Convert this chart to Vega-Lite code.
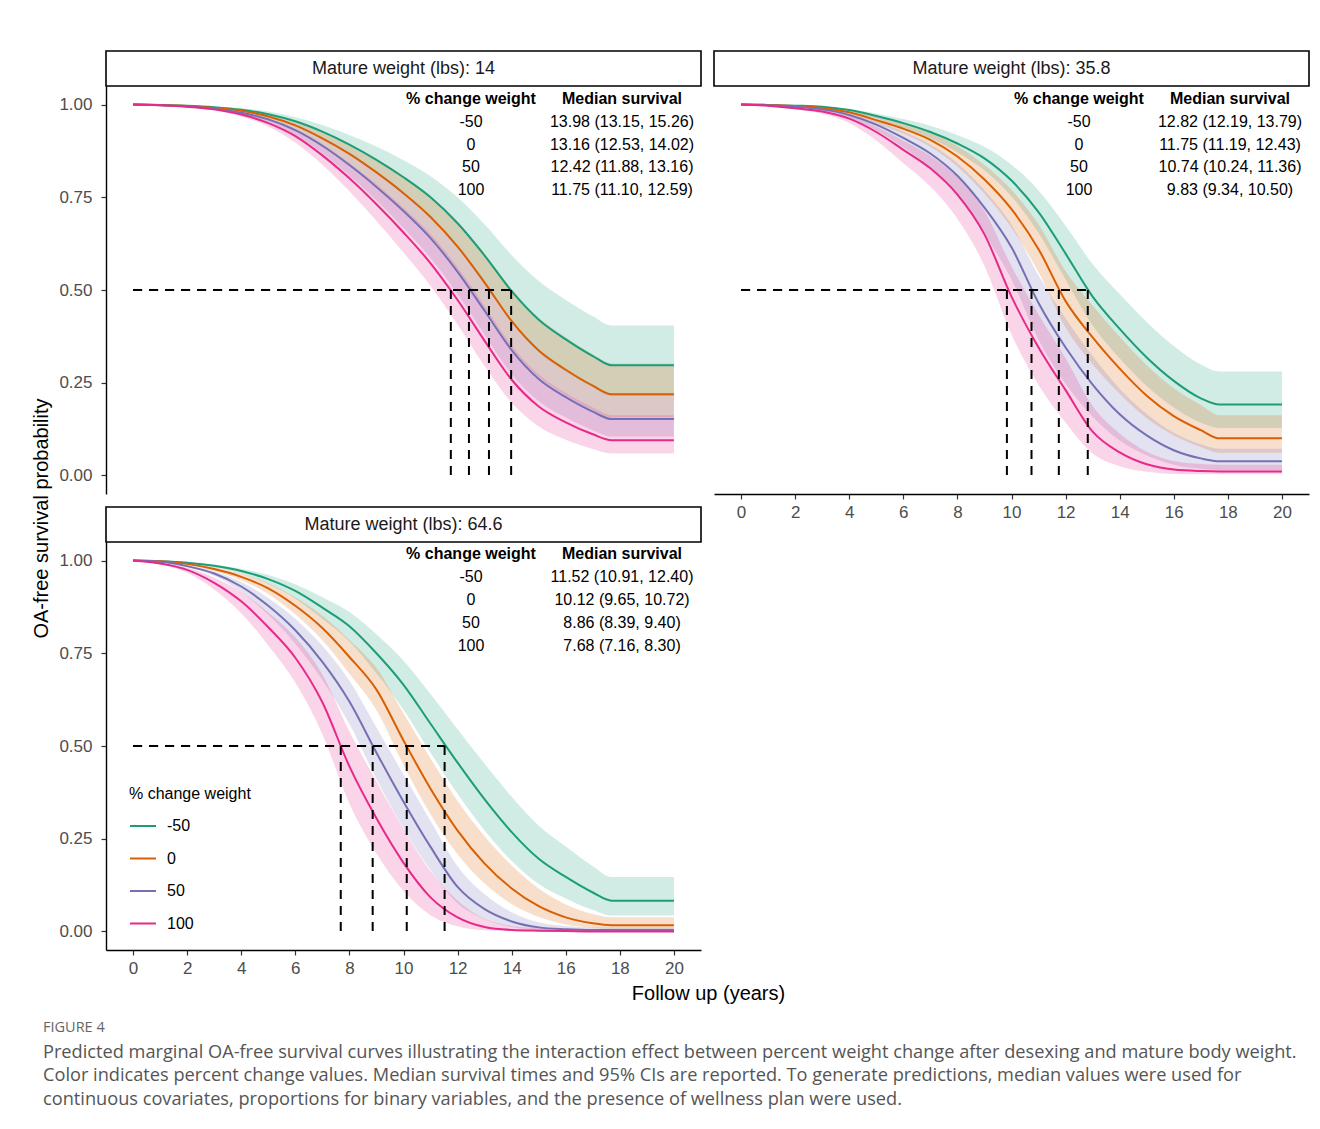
{
  "$schema": "https://vega.github.io/schema/vega-lite/v6.json",
  "padding": {"left": 30, "top": 50, "right": 5, "bottom": 5},
  "background": "white",
  "datasets": {
    "header": [
      {"col": "pct", "row": "h", "label": "% change weight"},
      {"col": "med", "row": "h", "label": "Median survival"}
    ],
    "strips": [
      {"p": "14", "label": "Mature weight (lbs): 14"},
      {"p": "35.8", "label": "Mature weight (lbs): 35.8"},
      {"p": "64.6", "label": "Mature weight (lbs): 64.6"}
    ],
    "medians": [
      {"p": "14", "g": "-50", "med": 13.98, "label": "13.98 (13.15, 15.26)"},
      {"p": "14", "g": "0", "med": 13.16, "label": "13.16 (12.53, 14.02)"},
      {"p": "14", "g": "50", "med": 12.42, "label": "12.42 (11.88, 13.16)"},
      {"p": "14", "g": "100", "med": 11.75, "label": "11.75 (11.10, 12.59)"},
      {"p": "35.8", "g": "-50", "med": 12.82, "label": "12.82 (12.19, 13.79)"},
      {"p": "35.8", "g": "0", "med": 11.75, "label": "11.75 (11.19, 12.43)"},
      {"p": "35.8", "g": "50", "med": 10.74, "label": "10.74 (10.24, 11.36)"},
      {"p": "35.8", "g": "100", "med": 9.83, "label": "9.83 (9.34, 10.50)"},
      {"p": "64.6", "g": "-50", "med": 11.52, "label": "11.52 (10.91, 12.40)"},
      {"p": "64.6", "g": "0", "med": 10.12, "label": "10.12 (9.65, 10.72)"},
      {"p": "64.6", "g": "50", "med": 8.86, "label": "8.86 (8.39, 9.40)"},
      {"p": "64.6", "g": "100", "med": 7.68, "label": "7.68 (7.16, 8.30)"}
    ],
    "curves": [
      {"p":"14","g":"-50","t":0,"s":1,"lo":1,"hi":1},
      {"p":"14","g":"-50","t":1,"s":0.999,"lo":0.999,"hi":0.999},
      {"p":"14","g":"-50","t":2,"s":0.997,"lo":0.996,"hi":0.998},
      {"p":"14","g":"-50","t":3,"s":0.993,"lo":0.991,"hi":0.995},
      {"p":"14","g":"-50","t":4,"s":0.986,"lo":0.982,"hi":0.990},
      {"p":"14","g":"-50","t":5,"s":0.974,"lo":0.967,"hi":0.981},
      {"p":"14","g":"-50","t":6,"s":0.955,"lo":0.943,"hi":0.966},
      {"p":"14","g":"-50","t":7,"s":0.927,"lo":0.908,"hi":0.945},
      {"p":"14","g":"-50","t":8,"s":0.892,"lo":0.865,"hi":0.918},
      {"p":"14","g":"-50","t":9,"s":0.851,"lo":0.815,"hi":0.887},
      {"p":"14","g":"-50","t":10,"s":0.804,"lo":0.758,"hi":0.850},
      {"p":"14","g":"-50","t":11,"s":0.750,"lo":0.694,"hi":0.807},
      {"p":"14","g":"-50","t":12,"s":0.680,"lo":0.613,"hi":0.750},
      {"p":"14","g":"-50","t":13,"s":0.593,"lo":0.515,"hi":0.677},
      {"p":"14","g":"-50","t":14,"s":0.497,"lo":0.412,"hi":0.594},
      {"p":"14","g":"-50","t":15,"s":0.420,"lo":0.332,"hi":0.524},
      {"p":"14","g":"-50","t":16,"s":0.367,"lo":0.280,"hi":0.473},
      {"p":"14","g":"-50","t":17,"s":0.322,"lo":0.237,"hi":0.429},
      {"p":"14","g":"-50","t":17.7,"s":0.297,"lo":0.214,"hi":0.404},
      {"p":"14","g":"-50","t":20,"s":0.297,"lo":0.214,"hi":0.404},
      {"p":"14","g":"0","t":0,"s":1,"lo":1,"hi":1},
      {"p":"14","g":"0","t":1,"s":0.999,"lo":0.998,"hi":0.999},
      {"p":"14","g":"0","t":2,"s":0.996,"lo":0.995,"hi":0.997},
      {"p":"14","g":"0","t":3,"s":0.991,"lo":0.989,"hi":0.993},
      {"p":"14","g":"0","t":4,"s":0.983,"lo":0.979,"hi":0.986},
      {"p":"14","g":"0","t":5,"s":0.968,"lo":0.961,"hi":0.974},
      {"p":"14","g":"0","t":6,"s":0.944,"lo":0.932,"hi":0.956},
      {"p":"14","g":"0","t":7,"s":0.909,"lo":0.891,"hi":0.928},
      {"p":"14","g":"0","t":8,"s":0.867,"lo":0.840,"hi":0.893},
      {"p":"14","g":"0","t":9,"s":0.817,"lo":0.782,"hi":0.853},
      {"p":"14","g":"0","t":10,"s":0.761,"lo":0.717,"hi":0.806},
      {"p":"14","g":"0","t":11,"s":0.697,"lo":0.645,"hi":0.753},
      {"p":"14","g":"0","t":12,"s":0.617,"lo":0.555,"hi":0.683},
      {"p":"14","g":"0","t":13,"s":0.520,"lo":0.451,"hi":0.597},
      {"p":"14","g":"0","t":14,"s":0.416,"lo":0.344,"hi":0.502},
      {"p":"14","g":"0","t":15,"s":0.337,"lo":0.266,"hi":0.425},
      {"p":"14","g":"0","t":16,"s":0.285,"lo":0.217,"hi":0.372},
      {"p":"14","g":"0","t":17,"s":0.242,"lo":0.177,"hi":0.327},
      {"p":"14","g":"0","t":17.7,"s":0.219,"lo":0.157,"hi":0.302},
      {"p":"14","g":"0","t":20,"s":0.219,"lo":0.157,"hi":0.302},
      {"p":"14","g":"50","t":0,"s":1,"lo":1,"hi":1},
      {"p":"14","g":"50","t":1,"s":0.998,"lo":0.998,"hi":0.999},
      {"p":"14","g":"50","t":2,"s":0.995,"lo":0.994,"hi":0.996},
      {"p":"14","g":"50","t":3,"s":0.989,"lo":0.987,"hi":0.991},
      {"p":"14","g":"50","t":4,"s":0.978,"lo":0.974,"hi":0.982},
      {"p":"14","g":"50","t":5,"s":0.960,"lo":0.952,"hi":0.967},
      {"p":"14","g":"50","t":6,"s":0.931,"lo":0.918,"hi":0.944},
      {"p":"14","g":"50","t":7,"s":0.889,"lo":0.869,"hi":0.909},
      {"p":"14","g":"50","t":8,"s":0.837,"lo":0.809,"hi":0.866},
      {"p":"14","g":"50","t":9,"s":0.778,"lo":0.741,"hi":0.816},
      {"p":"14","g":"50","t":10,"s":0.713,"lo":0.667,"hi":0.759},
      {"p":"14","g":"50","t":11,"s":0.640,"lo":0.586,"hi":0.695},
      {"p":"14","g":"50","t":12,"s":0.549,"lo":0.489,"hi":0.614},
      {"p":"14","g":"50","t":13,"s":0.444,"lo":0.379,"hi":0.517},
      {"p":"14","g":"50","t":14,"s":0.338,"lo":0.273,"hi":0.413},
      {"p":"14","g":"50","t":15,"s":0.260,"lo":0.200,"hi":0.334},
      {"p":"14","g":"50","t":16,"s":0.211,"lo":0.156,"hi":0.282},
      {"p":"14","g":"50","t":17,"s":0.172,"lo":0.122,"hi":0.239},
      {"p":"14","g":"50","t":17.7,"s":0.152,"lo":0.105,"hi":0.216},
      {"p":"14","g":"50","t":20,"s":0.152,"lo":0.105,"hi":0.216},
      {"p":"14","g":"100","t":0,"s":1,"lo":1,"hi":1},
      {"p":"14","g":"100","t":1,"s":0.998,"lo":0.998,"hi":0.999},
      {"p":"14","g":"100","t":2,"s":0.994,"lo":0.993,"hi":0.996},
      {"p":"14","g":"100","t":3,"s":0.987,"lo":0.984,"hi":0.990},
      {"p":"14","g":"100","t":4,"s":0.973,"lo":0.968,"hi":0.979},
      {"p":"14","g":"100","t":5,"s":0.950,"lo":0.941,"hi":0.961},
      {"p":"14","g":"100","t":6,"s":0.915,"lo":0.898,"hi":0.933},
      {"p":"14","g":"100","t":7,"s":0.863,"lo":0.838,"hi":0.893},
      {"p":"14","g":"100","t":8,"s":0.801,"lo":0.766,"hi":0.842},
      {"p":"14","g":"100","t":9,"s":0.731,"lo":0.686,"hi":0.785},
      {"p":"14","g":"100","t":10,"s":0.655,"lo":0.601,"hi":0.721},
      {"p":"14","g":"100","t":11,"s":0.572,"lo":0.511,"hi":0.650},
      {"p":"14","g":"100","t":12,"s":0.473,"lo":0.407,"hi":0.561},
      {"p":"14","g":"100","t":13,"s":0.363,"lo":0.295,"hi":0.457},
      {"p":"14","g":"100","t":14,"s":0.258,"lo":0.196,"hi":0.350},
      {"p":"14","g":"100","t":15,"s":0.186,"lo":0.132,"hi":0.272},
      {"p":"14","g":"100","t":16,"s":0.143,"lo":0.096,"hi":0.222},
      {"p":"14","g":"100","t":17,"s":0.111,"lo":0.071,"hi":0.183},
      {"p":"14","g":"100","t":17.7,"s":0.095,"lo":0.059,"hi":0.162},
      {"p":"14","g":"100","t":20,"s":0.095,"lo":0.059,"hi":0.162},
      {"p":"35.8","g":"-50","t":0,"s":1,"lo":1,"hi":1},
      {"p":"35.8","g":"-50","t":1,"s":0.999,"lo":0.999,"hi":0.999},
      {"p":"35.8","g":"-50","t":2,"s":0.997,"lo":0.996,"hi":0.998},
      {"p":"35.8","g":"-50","t":3,"s":0.994,"lo":0.993,"hi":0.995},
      {"p":"35.8","g":"-50","t":4,"s":0.985,"lo":0.981,"hi":0.988},
      {"p":"35.8","g":"-50","t":5,"s":0.969,"lo":0.962,"hi":0.976},
      {"p":"35.8","g":"-50","t":6,"s":0.950,"lo":0.938,"hi":0.961},
      {"p":"35.8","g":"-50","t":7,"s":0.926,"lo":0.909,"hi":0.943},
      {"p":"35.8","g":"-50","t":8,"s":0.895,"lo":0.871,"hi":0.918},
      {"p":"35.8","g":"-50","t":9,"s":0.855,"lo":0.823,"hi":0.886},
      {"p":"35.8","g":"-50","t":10,"s":0.795,"lo":0.752,"hi":0.838},
      {"p":"35.8","g":"-50","t":11,"s":0.710,"lo":0.654,"hi":0.768},
      {"p":"35.8","g":"-50","t":12,"s":0.598,"lo":0.528,"hi":0.673},
      {"p":"35.8","g":"-50","t":13,"s":0.482,"lo":0.404,"hi":0.570},
      {"p":"35.8","g":"-50","t":14,"s":0.395,"lo":0.316,"hi":0.489},
      {"p":"35.8","g":"-50","t":15,"s":0.318,"lo":0.241,"hi":0.414},
      {"p":"35.8","g":"-50","t":16,"s":0.255,"lo":0.183,"hi":0.349},
      {"p":"35.8","g":"-50","t":17,"s":0.208,"lo":0.142,"hi":0.299},
      {"p":"35.8","g":"-50","t":17.7,"s":0.191,"lo":0.128,"hi":0.280},
      {"p":"35.8","g":"-50","t":20,"s":0.191,"lo":0.128,"hi":0.280},
      {"p":"35.8","g":"0","t":0,"s":1,"lo":1,"hi":1},
      {"p":"35.8","g":"0","t":1,"s":0.999,"lo":0.999,"hi":0.999},
      {"p":"35.8","g":"0","t":2,"s":0.996,"lo":0.995,"hi":0.997},
      {"p":"35.8","g":"0","t":3,"s":0.991,"lo":0.989,"hi":0.993},
      {"p":"35.8","g":"0","t":4,"s":0.979,"lo":0.975,"hi":0.983},
      {"p":"35.8","g":"0","t":5,"s":0.958,"lo":0.949,"hi":0.967},
      {"p":"35.8","g":"0","t":6,"s":0.935,"lo":0.922,"hi":0.948},
      {"p":"35.8","g":"0","t":7,"s":0.905,"lo":0.886,"hi":0.924},
      {"p":"35.8","g":"0","t":8,"s":0.860,"lo":0.833,"hi":0.888},
      {"p":"35.8","g":"0","t":9,"s":0.798,"lo":0.760,"hi":0.837},
      {"p":"35.8","g":"0","t":10,"s":0.718,"lo":0.668,"hi":0.770},
      {"p":"35.8","g":"0","t":11,"s":0.610,"lo":0.548,"hi":0.677},
      {"p":"35.8","g":"0","t":12,"s":0.470,"lo":0.399,"hi":0.551},
      {"p":"35.8","g":"0","t":13,"s":0.372,"lo":0.300,"hi":0.458},
      {"p":"35.8","g":"0","t":14,"s":0.288,"lo":0.220,"hi":0.374},
      {"p":"35.8","g":"0","t":15,"s":0.215,"lo":0.154,"hi":0.297},
      {"p":"35.8","g":"0","t":16,"s":0.160,"lo":0.108,"hi":0.235},
      {"p":"35.8","g":"0","t":17,"s":0.122,"lo":0.077,"hi":0.190},
      {"p":"35.8","g":"0","t":17.7,"s":0.100,"lo":0.061,"hi":0.162},
      {"p":"35.8","g":"0","t":20,"s":0.100,"lo":0.061,"hi":0.162},
      {"p":"35.8","g":"50","t":0,"s":1,"lo":1,"hi":1},
      {"p":"35.8","g":"50","t":1,"s":0.998,"lo":0.997,"hi":0.998},
      {"p":"35.8","g":"50","t":2,"s":0.994,"lo":0.992,"hi":0.995},
      {"p":"35.8","g":"50","t":3,"s":0.987,"lo":0.983,"hi":0.990},
      {"p":"35.8","g":"50","t":4,"s":0.972,"lo":0.963,"hi":0.977},
      {"p":"35.8","g":"50","t":5,"s":0.946,"lo":0.930,"hi":0.956},
      {"p":"35.8","g":"50","t":6,"s":0.910,"lo":0.884,"hi":0.927},
      {"p":"35.8","g":"50","t":7,"s":0.868,"lo":0.830,"hi":0.892},
      {"p":"35.8","g":"50","t":8,"s":0.808,"lo":0.756,"hi":0.842},
      {"p":"35.8","g":"50","t":9,"s":0.722,"lo":0.652,"hi":0.769},
      {"p":"35.8","g":"50","t":10,"s":0.615,"lo":0.528,"hi":0.676},
      {"p":"35.8","g":"50","t":11,"s":0.465,"lo":0.366,"hi":0.539},
      {"p":"35.8","g":"50","t":12,"s":0.345,"lo":0.247,"hi":0.424},
      {"p":"35.8","g":"50","t":13,"s":0.245,"lo":0.158,"hi":0.322},
      {"p":"35.8","g":"50","t":14,"s":0.165,"lo":0.094,"hi":0.234},
      {"p":"35.8","g":"50","t":15,"s":0.108,"lo":0.054,"hi":0.166},
      {"p":"35.8","g":"50","t":16,"s":0.068,"lo":0.029,"hi":0.115},
      {"p":"35.8","g":"50","t":17,"s":0.046,"lo":0.018,"hi":0.084},
      {"p":"35.8","g":"50","t":17.7,"s":0.038,"lo":0.014,"hi":0.072},
      {"p":"35.8","g":"50","t":20,"s":0.038,"lo":0.014,"hi":0.072},
      {"p":"35.8","g":"100","t":0,"s":1,"lo":1,"hi":1},
      {"p":"35.8","g":"100","t":1,"s":0.997,"lo":0.996,"hi":0.998},
      {"p":"35.8","g":"100","t":2,"s":0.990,"lo":0.987,"hi":0.992},
      {"p":"35.8","g":"100","t":3,"s":0.981,"lo":0.975,"hi":0.985},
      {"p":"35.8","g":"100","t":4,"s":0.962,"lo":0.950,"hi":0.970},
      {"p":"35.8","g":"100","t":5,"s":0.926,"lo":0.903,"hi":0.941},
      {"p":"35.8","g":"100","t":6,"s":0.878,"lo":0.842,"hi":0.903},
      {"p":"35.8","g":"100","t":7,"s":0.828,"lo":0.779,"hi":0.862},
      {"p":"35.8","g":"100","t":8,"s":0.757,"lo":0.692,"hi":0.804},
      {"p":"35.8","g":"100","t":9,"s":0.650,"lo":0.565,"hi":0.713},
      {"p":"35.8","g":"100","t":10,"s":0.482,"lo":0.380,"hi":0.564},
      {"p":"35.8","g":"100","t":11,"s":0.345,"lo":0.244,"hi":0.434},
      {"p":"35.8","g":"100","t":12,"s":0.230,"lo":0.143,"hi":0.316},
      {"p":"35.8","g":"100","t":13,"s":0.118,"lo":0.059,"hi":0.187},
      {"p":"35.8","g":"100","t":14,"s":0.062,"lo":0.025,"hi":0.113},
      {"p":"35.8","g":"100","t":15,"s":0.030,"lo":0.010,"hi":0.064},
      {"p":"35.8","g":"100","t":16,"s":0.016,"lo":0.004,"hi":0.039},
      {"p":"35.8","g":"100","t":17,"s":0.012,"lo":0.003,"hi":0.031},
      {"p":"35.8","g":"100","t":17.7,"s":0.011,"lo":0.003,"hi":0.029},
      {"p":"35.8","g":"100","t":20,"s":0.011,"lo":0.003,"hi":0.029},
      {"p":"64.6","g":"-50","t":0,"s":1,"lo":1,"hi":1},
      {"p":"64.6","g":"-50","t":1,"s":0.998,"lo":0.998,"hi":0.999},
      {"p":"64.6","g":"-50","t":2,"s":0.994,"lo":0.993,"hi":0.995},
      {"p":"64.6","g":"-50","t":3,"s":0.986,"lo":0.982,"hi":0.989},
      {"p":"64.6","g":"-50","t":4,"s":0.972,"lo":0.965,"hi":0.978},
      {"p":"64.6","g":"-50","t":5,"s":0.950,"lo":0.937,"hi":0.961},
      {"p":"64.6","g":"-50","t":6,"s":0.918,"lo":0.898,"hi":0.936},
      {"p":"64.6","g":"-50","t":7,"s":0.873,"lo":0.843,"hi":0.901},
      {"p":"64.6","g":"-50","t":8,"s":0.823,"lo":0.782,"hi":0.861},
      {"p":"64.6","g":"-50","t":9,"s":0.750,"lo":0.696,"hi":0.801},
      {"p":"64.6","g":"-50","t":10,"s":0.665,"lo":0.598,"hi":0.730},
      {"p":"64.6","g":"-50","t":11,"s":0.560,"lo":0.482,"hi":0.640},
      {"p":"64.6","g":"-50","t":12,"s":0.455,"lo":0.371,"hi":0.545},
      {"p":"64.6","g":"-50","t":13,"s":0.356,"lo":0.272,"hi":0.452},
      {"p":"64.6","g":"-50","t":14,"s":0.268,"lo":0.190,"hi":0.363},
      {"p":"64.6","g":"-50","t":15,"s":0.196,"lo":0.128,"hi":0.285},
      {"p":"64.6","g":"-50","t":16,"s":0.147,"lo":0.089,"hi":0.229},
      {"p":"64.6","g":"-50","t":17,"s":0.105,"lo":0.058,"hi":0.176},
      {"p":"64.6","g":"-50","t":17.7,"s":0.083,"lo":0.043,"hi":0.147},
      {"p":"64.6","g":"-50","t":20,"s":0.083,"lo":0.043,"hi":0.147},
      {"p":"64.6","g":"0","t":0,"s":1,"lo":1,"hi":1},
      {"p":"64.6","g":"0","t":1,"s":0.998,"lo":0.998,"hi":0.998},
      {"p":"64.6","g":"0","t":2,"s":0.991,"lo":0.989,"hi":0.993},
      {"p":"64.6","g":"0","t":3,"s":0.977,"lo":0.972,"hi":0.982},
      {"p":"64.6","g":"0","t":4,"s":0.956,"lo":0.947,"hi":0.965},
      {"p":"64.6","g":"0","t":5,"s":0.925,"lo":0.910,"hi":0.939},
      {"p":"64.6","g":"0","t":6,"s":0.878,"lo":0.855,"hi":0.901},
      {"p":"64.6","g":"0","t":7,"s":0.818,"lo":0.785,"hi":0.851},
      {"p":"64.6","g":"0","t":8,"s":0.740,"lo":0.695,"hi":0.786},
      {"p":"64.6","g":"0","t":9,"s":0.652,"lo":0.597,"hi":0.710},
      {"p":"64.6","g":"0","t":10,"s":0.515,"lo":0.449,"hi":0.588},
      {"p":"64.6","g":"0","t":11,"s":0.385,"lo":0.316,"hi":0.466},
      {"p":"64.6","g":"0","t":12,"s":0.272,"lo":0.208,"hi":0.352},
      {"p":"64.6","g":"0","t":13,"s":0.183,"lo":0.129,"hi":0.257},
      {"p":"64.6","g":"0","t":14,"s":0.116,"lo":0.074,"hi":0.178},
      {"p":"64.6","g":"0","t":15,"s":0.068,"lo":0.039,"hi":0.116},
      {"p":"64.6","g":"0","t":16,"s":0.038,"lo":0.019,"hi":0.073},
      {"p":"64.6","g":"0","t":17,"s":0.022,"lo":0.010,"hi":0.047},
      {"p":"64.6","g":"0","t":17.7,"s":0.017,"lo":0.007,"hi":0.038},
      {"p":"64.6","g":"0","t":20,"s":0.017,"lo":0.007,"hi":0.038},
      {"p":"64.6","g":"50","t":0,"s":1,"lo":1,"hi":1},
      {"p":"64.6","g":"50","t":1,"s":0.997,"lo":0.996,"hi":0.998},
      {"p":"64.6","g":"50","t":2,"s":0.985,"lo":0.982,"hi":0.988},
      {"p":"64.6","g":"50","t":3,"s":0.965,"lo":0.958,"hi":0.971},
      {"p":"64.6","g":"50","t":4,"s":0.930,"lo":0.915,"hi":0.942},
      {"p":"64.6","g":"50","t":5,"s":0.878,"lo":0.854,"hi":0.899},
      {"p":"64.6","g":"50","t":6,"s":0.812,"lo":0.776,"hi":0.843},
      {"p":"64.6","g":"50","t":7,"s":0.727,"lo":0.678,"hi":0.770},
      {"p":"64.6","g":"50","t":8,"s":0.620,"lo":0.559,"hi":0.676},
      {"p":"64.6","g":"50","t":9,"s":0.482,"lo":0.411,"hi":0.550},
      {"p":"64.6","g":"50","t":10,"s":0.350,"lo":0.278,"hi":0.423},
      {"p":"64.6","g":"50","t":11,"s":0.228,"lo":0.165,"hi":0.298},
      {"p":"64.6","g":"50","t":12,"s":0.120,"lo":0.076,"hi":0.176},
      {"p":"64.6","g":"50","t":13,"s":0.060,"lo":0.033,"hi":0.100},
      {"p":"64.6","g":"50","t":14,"s":0.027,"lo":0.012,"hi":0.052},
      {"p":"64.6","g":"50","t":15,"s":0.011,"lo":0.004,"hi":0.025},
      {"p":"64.6","g":"50","t":16,"s":0.006,"lo":0.002,"hi":0.015},
      {"p":"64.6","g":"50","t":17,"s":0.004,"lo":0.001,"hi":0.011},
      {"p":"64.6","g":"50","t":17.7,"s":0.004,"lo":0.001,"hi":0.011},
      {"p":"64.6","g":"50","t":20,"s":0.004,"lo":0.001,"hi":0.011},
      {"p":"64.6","g":"100","t":0,"s":1,"lo":1,"hi":1},
      {"p":"64.6","g":"100","t":1,"s":0.992,"lo":0.990,"hi":0.994},
      {"p":"64.6","g":"100","t":2,"s":0.975,"lo":0.967,"hi":0.981},
      {"p":"64.6","g":"100","t":3,"s":0.940,"lo":0.922,"hi":0.954},
      {"p":"64.6","g":"100","t":4,"s":0.890,"lo":0.858,"hi":0.915},
      {"p":"64.6","g":"100","t":5,"s":0.820,"lo":0.771,"hi":0.860},
      {"p":"64.6","g":"100","t":6,"s":0.738,"lo":0.671,"hi":0.793},
      {"p":"64.6","g":"100","t":7,"s":0.618,"lo":0.532,"hi":0.693},
      {"p":"64.6","g":"100","t":8,"s":0.445,"lo":0.345,"hi":0.539},
      {"p":"64.6","g":"100","t":9,"s":0.305,"lo":0.210,"hi":0.404},
      {"p":"64.6","g":"100","t":10,"s":0.185,"lo":0.109,"hi":0.276},
      {"p":"64.6","g":"100","t":11,"s":0.092,"lo":0.044,"hi":0.162},
      {"p":"64.6","g":"100","t":12,"s":0.038,"lo":0.014,"hi":0.083},
      {"p":"64.6","g":"100","t":13,"s":0.012,"lo":0.003,"hi":0.034},
      {"p":"64.6","g":"100","t":14,"s":0.004,"lo":0.001,"hi":0.015},
      {"p":"64.6","g":"100","t":15,"s":0.002,"lo":0,"hi":0.009},
      {"p":"64.6","g":"100","t":16,"s":0.001,"lo":0,"hi":0.005},
      {"p":"64.6","g":"100","t":17,"s":0,"lo":0,"hi":0.003},
      {"p":"64.6","g":"100","t":17.7,"s":0,"lo":0,"hi":0.002},
      {"p":"64.6","g":"100","t":20,"s":0,"lo":0,"hi":0.002}
    ]
  },
  "title": {
    "text": "FIGURE 4",
    "subtitle": [
      "Predicted marginal OA-free survival curves illustrating the interaction effect between percent weight change after desexing and mature body weight.",
      "Color indicates percent change values. Median survival times and 95% CIs are reported. To generate predictions, median values were used for",
      "continuous covariates, proportions for binary variables, and the presence of wellness plan were used."
    ],
    "orient": "bottom",
    "anchor": "start",
    "frame": "bounds",
    "offset": 18,
    "dx": 12,
    "font": "Open Sans",
    "fontSize": 14.5,
    "fontWeight": "normal",
    "color": "#666666",
    "subtitleFont": "Open Sans",
    "subtitleFontSize": 18.2,
    "subtitleColor": "#555555",
    "subtitleLineHeight": 23.5,
    "subtitlePadding": 8
  },
  "columns": 2,
  "spacing": {"row": 0, "column": 13},
  "bounds": "flush",
  "resolve": {"scale": {"stroke": "independent", "fill": "independent"}},
  "concat": [
    {
      "width": 595, "height": 35,
      "view": {"stroke": "black", "strokeWidth": 1.6},
      "data": {"name": "strips"},
      "transform": [{"filter": "datum.p === '14'"}],
      "mark": {"type": "text", "fontSize": 18, "color": "#1a1a1a", "baseline": "middle"},
      "encoding": {"text": {"field": "label", "type": "nominal"}}
    },
    {
      "width": 595, "height": 35,
      "view": {"stroke": "black", "strokeWidth": 1.6},
      "data": {"name": "strips"},
      "transform": [{"filter": "datum.p === '35.8'"}],
      "mark": {"type": "text", "fontSize": 18, "color": "#1a1a1a", "baseline": "middle"},
      "encoding": {"text": {"field": "label", "type": "nominal"}}
    },
    {
      "width": 595, "height": 408,
      "resolve": {"scale": {"x": "independent", "y": "independent"}},
      "layer": [
        {
          "data": {"name": "curves"},
          "transform": [{"filter": "datum.p === '14'"}],
          "mark": {"type": "area", "opacity": 0.2, "interpolate": "monotone"},
          "encoding": {
            "x": {"field": "t", "type": "quantitative", "scale": {"domain": [-1, 21], "nice": false, "zero": false}, "axis": null},
            "y": {"field": "lo", "type": "quantitative", "stack": null, "scale": {"domain": [-0.05, 1.05], "nice": false, "zero": false}, "axis": {"values": [0, 0.25, 0.5, 0.75, 1], "format": ".2f", "title": null, "labelPadding": 9}},
            "y2": {"field": "hi"},
            "fill": {"field": "g", "type": "nominal", "scale": {"domain": ["-50", "0", "50", "100"], "range": ["#1B9E77", "#D95F02", "#7570B3", "#E7298A"]}, "legend": null}
          }
        },
        {
          "data": {"name": "curves"},
          "transform": [{"filter": "datum.p === '14'"}],
          "mark": {"type": "line", "strokeWidth": 2, "interpolate": "monotone"},
          "encoding": {
            "x": {"field": "t", "type": "quantitative", "scale": {"domain": [-1, 21], "nice": false, "zero": false}, "axis": null},
            "y": {"field": "s", "type": "quantitative", "scale": {"domain": [-0.05, 1.05], "nice": false, "zero": false}, "axis": null},
            "stroke": {"field": "g", "type": "nominal", "scale": {"domain": ["-50", "0", "50", "100"], "range": ["#1B9E77", "#D95F02", "#7570B3", "#E7298A"]}, "legend": null}
          }
        },
        {
          "data": {"name": "medians"},
          "transform": [{"filter": "datum.p === '14'"}, {"calculate": "0", "as": "t0"}],
          "mark": {"type": "rule", "strokeDash": [9, 7], "strokeWidth": 2, "color": "black"},
          "encoding": {
            "x": {"field": "t0", "type": "quantitative", "scale": {"domain": [-1, 21], "nice": false, "zero": false}, "axis": null},
            "x2": {"field": "med"},
            "y": {"datum": 0.5, "type": "quantitative", "scale": {"domain": [-0.05, 1.05], "nice": false, "zero": false}, "axis": null}
          }
        },
        {
          "data": {"name": "medians"},
          "transform": [{"filter": "datum.p === '14'"}],
          "mark": {"type": "rule", "strokeDash": [9, 7], "strokeWidth": 2, "color": "black"},
          "encoding": {
            "x": {"field": "med", "type": "quantitative", "scale": {"domain": [-1, 21], "nice": false, "zero": false}, "axis": null},
            "y": {"datum": 0.5, "type": "quantitative", "scale": {"domain": [-0.05, 1.05], "nice": false, "zero": false}, "axis": null},
            "y2": {"datum": 0}
          }
        },
        {
          "data": {"name": "header"},
          "mark": {"type": "text", "fontSize": 16, "fontWeight": "bold", "color": "black"},
          "encoding": {
            "x": {"field": "col", "type": "nominal", "scale": {"type": "point", "domain": ["pct", "med"], "range": [365, 516], "padding": 0}, "axis": null},
            "y": {"field": "row", "type": "ordinal", "scale": {"type": "point", "domain": ["h", "-50", "0", "50", "100"], "range": [13, 104], "padding": 0}, "axis": null},
            "text": {"field": "label", "type": "nominal"}
          }
        },
        {
          "data": {"name": "medians"},
          "transform": [{"filter": "datum.p === '14'"}, {"calculate": "'pct'", "as": "col"}],
          "mark": {"type": "text", "fontSize": 16, "color": "black"},
          "encoding": {
            "x": {"field": "col", "type": "nominal", "scale": {"type": "point", "domain": ["pct", "med"], "range": [365, 516], "padding": 0}, "axis": null},
            "y": {"field": "g", "type": "ordinal", "scale": {"type": "point", "domain": ["h", "-50", "0", "50", "100"], "range": [13, 104], "padding": 0}, "axis": null},
            "text": {"field": "g", "type": "nominal"}
          }
        },
        {
          "data": {"name": "medians"},
          "transform": [{"filter": "datum.p === '14'"}, {"calculate": "'med'", "as": "col"}],
          "mark": {"type": "text", "fontSize": 16, "color": "black"},
          "encoding": {
            "x": {"field": "col", "type": "nominal", "scale": {"type": "point", "domain": ["pct", "med"], "range": [365, 516], "padding": 0}, "axis": null},
            "y": {"field": "g", "type": "ordinal", "scale": {"type": "point", "domain": ["h", "-50", "0", "50", "100"], "range": [13, 104], "padding": 0}, "axis": null},
            "text": {"field": "label", "type": "nominal"}
          }
        }
      ]
    },
    {
      "width": 595, "height": 408,
      "resolve": {"scale": {"x": "independent", "y": "independent"}},
      "layer": [
        {
          "data": {"name": "curves"},
          "transform": [{"filter": "datum.p === '35.8'"}],
          "mark": {"type": "area", "opacity": 0.2, "interpolate": "monotone"},
          "encoding": {
            "x": {"field": "t", "type": "quantitative", "scale": {"domain": [-1, 21], "nice": false, "zero": false}, "axis": {"values": [0, 2, 4, 6, 8, 10, 12, 14, 16, 18, 20], "title": null, "labelPadding": 5}},
            "y": {"field": "lo", "type": "quantitative", "stack": null, "scale": {"domain": [-0.05, 1.05], "nice": false, "zero": false}, "axis": null},
            "y2": {"field": "hi"},
            "fill": {"field": "g", "type": "nominal", "scale": {"domain": ["-50", "0", "50", "100"], "range": ["#1B9E77", "#D95F02", "#7570B3", "#E7298A"]}, "legend": null}
          }
        },
        {
          "data": {"name": "curves"},
          "transform": [{"filter": "datum.p === '35.8'"}],
          "mark": {"type": "line", "strokeWidth": 2, "interpolate": "monotone"},
          "encoding": {
            "x": {"field": "t", "type": "quantitative", "scale": {"domain": [-1, 21], "nice": false, "zero": false}, "axis": null},
            "y": {"field": "s", "type": "quantitative", "scale": {"domain": [-0.05, 1.05], "nice": false, "zero": false}, "axis": null},
            "stroke": {"field": "g", "type": "nominal", "scale": {"domain": ["-50", "0", "50", "100"], "range": ["#1B9E77", "#D95F02", "#7570B3", "#E7298A"]}, "legend": null}
          }
        },
        {
          "data": {"name": "medians"},
          "transform": [{"filter": "datum.p === '35.8'"}, {"calculate": "0", "as": "t0"}],
          "mark": {"type": "rule", "strokeDash": [9, 7], "strokeWidth": 2, "color": "black"},
          "encoding": {
            "x": {"field": "t0", "type": "quantitative", "scale": {"domain": [-1, 21], "nice": false, "zero": false}, "axis": null},
            "x2": {"field": "med"},
            "y": {"datum": 0.5, "type": "quantitative", "scale": {"domain": [-0.05, 1.05], "nice": false, "zero": false}, "axis": null}
          }
        },
        {
          "data": {"name": "medians"},
          "transform": [{"filter": "datum.p === '35.8'"}],
          "mark": {"type": "rule", "strokeDash": [9, 7], "strokeWidth": 2, "color": "black"},
          "encoding": {
            "x": {"field": "med", "type": "quantitative", "scale": {"domain": [-1, 21], "nice": false, "zero": false}, "axis": null},
            "y": {"datum": 0.5, "type": "quantitative", "scale": {"domain": [-0.05, 1.05], "nice": false, "zero": false}, "axis": null},
            "y2": {"datum": 0}
          }
        },
        {
          "data": {"name": "header"},
          "mark": {"type": "text", "fontSize": 16, "fontWeight": "bold", "color": "black"},
          "encoding": {
            "x": {"field": "col", "type": "nominal", "scale": {"type": "point", "domain": ["pct", "med"], "range": [365, 516], "padding": 0}, "axis": null},
            "y": {"field": "row", "type": "ordinal", "scale": {"type": "point", "domain": ["h", "-50", "0", "50", "100"], "range": [13, 104], "padding": 0}, "axis": null},
            "text": {"field": "label", "type": "nominal"}
          }
        },
        {
          "data": {"name": "medians"},
          "transform": [{"filter": "datum.p === '35.8'"}, {"calculate": "'pct'", "as": "col"}],
          "mark": {"type": "text", "fontSize": 16, "color": "black"},
          "encoding": {
            "x": {"field": "col", "type": "nominal", "scale": {"type": "point", "domain": ["pct", "med"], "range": [365, 516], "padding": 0}, "axis": null},
            "y": {"field": "g", "type": "ordinal", "scale": {"type": "point", "domain": ["h", "-50", "0", "50", "100"], "range": [13, 104], "padding": 0}, "axis": null},
            "text": {"field": "g", "type": "nominal"}
          }
        },
        {
          "data": {"name": "medians"},
          "transform": [{"filter": "datum.p === '35.8'"}, {"calculate": "'med'", "as": "col"}],
          "mark": {"type": "text", "fontSize": 16, "color": "black"},
          "encoding": {
            "x": {"field": "col", "type": "nominal", "scale": {"type": "point", "domain": ["pct", "med"], "range": [365, 516], "padding": 0}, "axis": null},
            "y": {"field": "g", "type": "ordinal", "scale": {"type": "point", "domain": ["h", "-50", "0", "50", "100"], "range": [13, 104], "padding": 0}, "axis": null},
            "text": {"field": "label", "type": "nominal"}
          }
        }
      ]
    },
    {
      "width": 595, "height": 13,
      "data": {"values": [{"z": 0}]},
      "mark": {"type": "point", "opacity": 0},
      "encoding": {}
    },
    {
      "width": 595, "height": 13,
      "data": {"values": [{"z": 0}]},
      "mark": {"type": "point", "opacity": 0},
      "encoding": {}
    },
    {
      "width": 595, "height": 35,
      "view": {"stroke": "black", "strokeWidth": 1.6},
      "data": {"name": "strips"},
      "transform": [{"filter": "datum.p === '64.6'"}],
      "mark": {"type": "text", "fontSize": 18, "color": "#1a1a1a", "baseline": "middle"},
      "encoding": {"text": {"field": "label", "type": "nominal"}}
    },
    {
      "width": 595, "height": 35,
      "data": {"values": [{"z": 0}]},
      "mark": {"type": "point", "opacity": 0},
      "encoding": {}
    },
    {
      "width": 595, "height": 408,
      "resolve": {"scale": {"x": "independent", "y": "independent"}},
      "layer": [
        {
          "data": {"name": "curves"},
          "transform": [{"filter": "datum.p === '64.6'"}],
          "mark": {"type": "area", "opacity": 0.2, "interpolate": "monotone"},
          "encoding": {
            "x": {"field": "t", "type": "quantitative", "scale": {"domain": [-1, 21], "nice": false, "zero": false}, "axis": {"values": [0, 2, 4, 6, 8, 10, 12, 14, 16, 18, 20], "title": "Follow up (years)", "labelPadding": 5, "titleX": 602, "titleY": 33, "titleBaseline": "top", "titleAlign": "center"}},
            "y": {"field": "lo", "type": "quantitative", "stack": null, "scale": {"domain": [-0.05, 1.05], "nice": false, "zero": false}, "axis": {"values": [0, 0.25, 0.5, 0.75, 1], "format": ".2f", "labelPadding": 9, "title": "OA-free survival probability", "titleX": -65, "titleY": -24, "titleBaseline": "middle", "titleAlign": "center", "titleAngle": -90}},
            "y2": {"field": "hi"},
            "fill": {"field": "g", "type": "nominal", "scale": {"domain": ["100", "50", "0", "-50"], "range": ["#E7298A", "#7570B3", "#D95F02", "#1B9E77"]}, "legend": null}
          }
        },
        {
          "data": {"name": "curves"},
          "transform": [{"filter": "datum.p === '64.6'"}],
          "mark": {"type": "line", "strokeWidth": 2, "interpolate": "monotone"},
          "encoding": {
            "x": {"field": "t", "type": "quantitative", "scale": {"domain": [-1, 21], "nice": false, "zero": false}, "axis": null},
            "y": {"field": "s", "type": "quantitative", "scale": {"domain": [-0.05, 1.05], "nice": false, "zero": false}, "axis": null},
            "stroke": {"field": "g", "type": "nominal", "scale": {"domain": ["-50", "0", "50", "100"], "range": ["#1B9E77", "#D95F02", "#7570B3", "#E7298A"]},
              "legend": {"title": "% change weight", "orient": "none", "legendX": 23, "legendY": 244, "symbolType": "stroke", "symbolStrokeWidth": 2, "symbolSize": 676, "labelFontSize": 16, "labelColor": "black", "titleFontSize": 16, "titleFontWeight": "normal", "titleColor": "black", "rowPadding": 10.5, "labelOffset": 10, "titlePadding": 10}}
          }
        },
        {
          "data": {"name": "medians"},
          "transform": [{"filter": "datum.p === '64.6'"}, {"calculate": "0", "as": "t0"}],
          "mark": {"type": "rule", "strokeDash": [9, 7], "strokeWidth": 2, "color": "black"},
          "encoding": {
            "x": {"field": "t0", "type": "quantitative", "scale": {"domain": [-1, 21], "nice": false, "zero": false}, "axis": null},
            "x2": {"field": "med"},
            "y": {"datum": 0.5, "type": "quantitative", "scale": {"domain": [-0.05, 1.05], "nice": false, "zero": false}, "axis": null}
          }
        },
        {
          "data": {"name": "medians"},
          "transform": [{"filter": "datum.p === '64.6'"}],
          "mark": {"type": "rule", "strokeDash": [9, 7], "strokeWidth": 2, "color": "black"},
          "encoding": {
            "x": {"field": "med", "type": "quantitative", "scale": {"domain": [-1, 21], "nice": false, "zero": false}, "axis": null},
            "y": {"datum": 0.5, "type": "quantitative", "scale": {"domain": [-0.05, 1.05], "nice": false, "zero": false}, "axis": null},
            "y2": {"datum": 0}
          }
        },
        {
          "data": {"name": "header"},
          "mark": {"type": "text", "fontSize": 16, "fontWeight": "bold", "color": "black"},
          "encoding": {
            "x": {"field": "col", "type": "nominal", "scale": {"type": "point", "domain": ["pct", "med"], "range": [365, 516], "padding": 0}, "axis": null},
            "y": {"field": "row", "type": "ordinal", "scale": {"type": "point", "domain": ["h", "-50", "0", "50", "100"], "range": [12, 104], "padding": 0}, "axis": null},
            "text": {"field": "label", "type": "nominal"}
          }
        },
        {
          "data": {"name": "medians"},
          "transform": [{"filter": "datum.p === '64.6'"}, {"calculate": "'pct'", "as": "col"}],
          "mark": {"type": "text", "fontSize": 16, "color": "black"},
          "encoding": {
            "x": {"field": "col", "type": "nominal", "scale": {"type": "point", "domain": ["pct", "med"], "range": [365, 516], "padding": 0}, "axis": null},
            "y": {"field": "g", "type": "ordinal", "scale": {"type": "point", "domain": ["h", "-50", "0", "50", "100"], "range": [12, 104], "padding": 0}, "axis": null},
            "text": {"field": "g", "type": "nominal"}
          }
        },
        {
          "data": {"name": "medians"},
          "transform": [{"filter": "datum.p === '64.6'"}, {"calculate": "'med'", "as": "col"}],
          "mark": {"type": "text", "fontSize": 16, "color": "black"},
          "encoding": {
            "x": {"field": "col", "type": "nominal", "scale": {"type": "point", "domain": ["pct", "med"], "range": [365, 516], "padding": 0}, "axis": null},
            "y": {"field": "g", "type": "ordinal", "scale": {"type": "point", "domain": ["h", "-50", "0", "50", "100"], "range": [12, 104], "padding": 0}, "axis": null},
            "text": {"field": "label", "type": "nominal"}
          }
        }
      ]
    }
  ],
  "config": {
    "view": {"stroke": null},
    "font": "Liberation Sans",
    "axis": {
      "grid": false,
      "domainColor": "black",
      "domainWidth": 1.4,
      "tickColor": "#333333",
      "tickSize": 5,
      "tickWidth": 1.2,
      "labelColor": "#4d4d4d",
      "labelFontSize": 17,
      "labelPadding": 7,
      "labelFont": "Liberation Sans",
      "titleFont": "Liberation Sans",
      "titleColor": "black",
      "titleFontSize": 20,
      "titleFontWeight": "normal"
    },
    "legend": {"labelFont": "Liberation Sans", "titleFont": "Liberation Sans"}
  }
}
